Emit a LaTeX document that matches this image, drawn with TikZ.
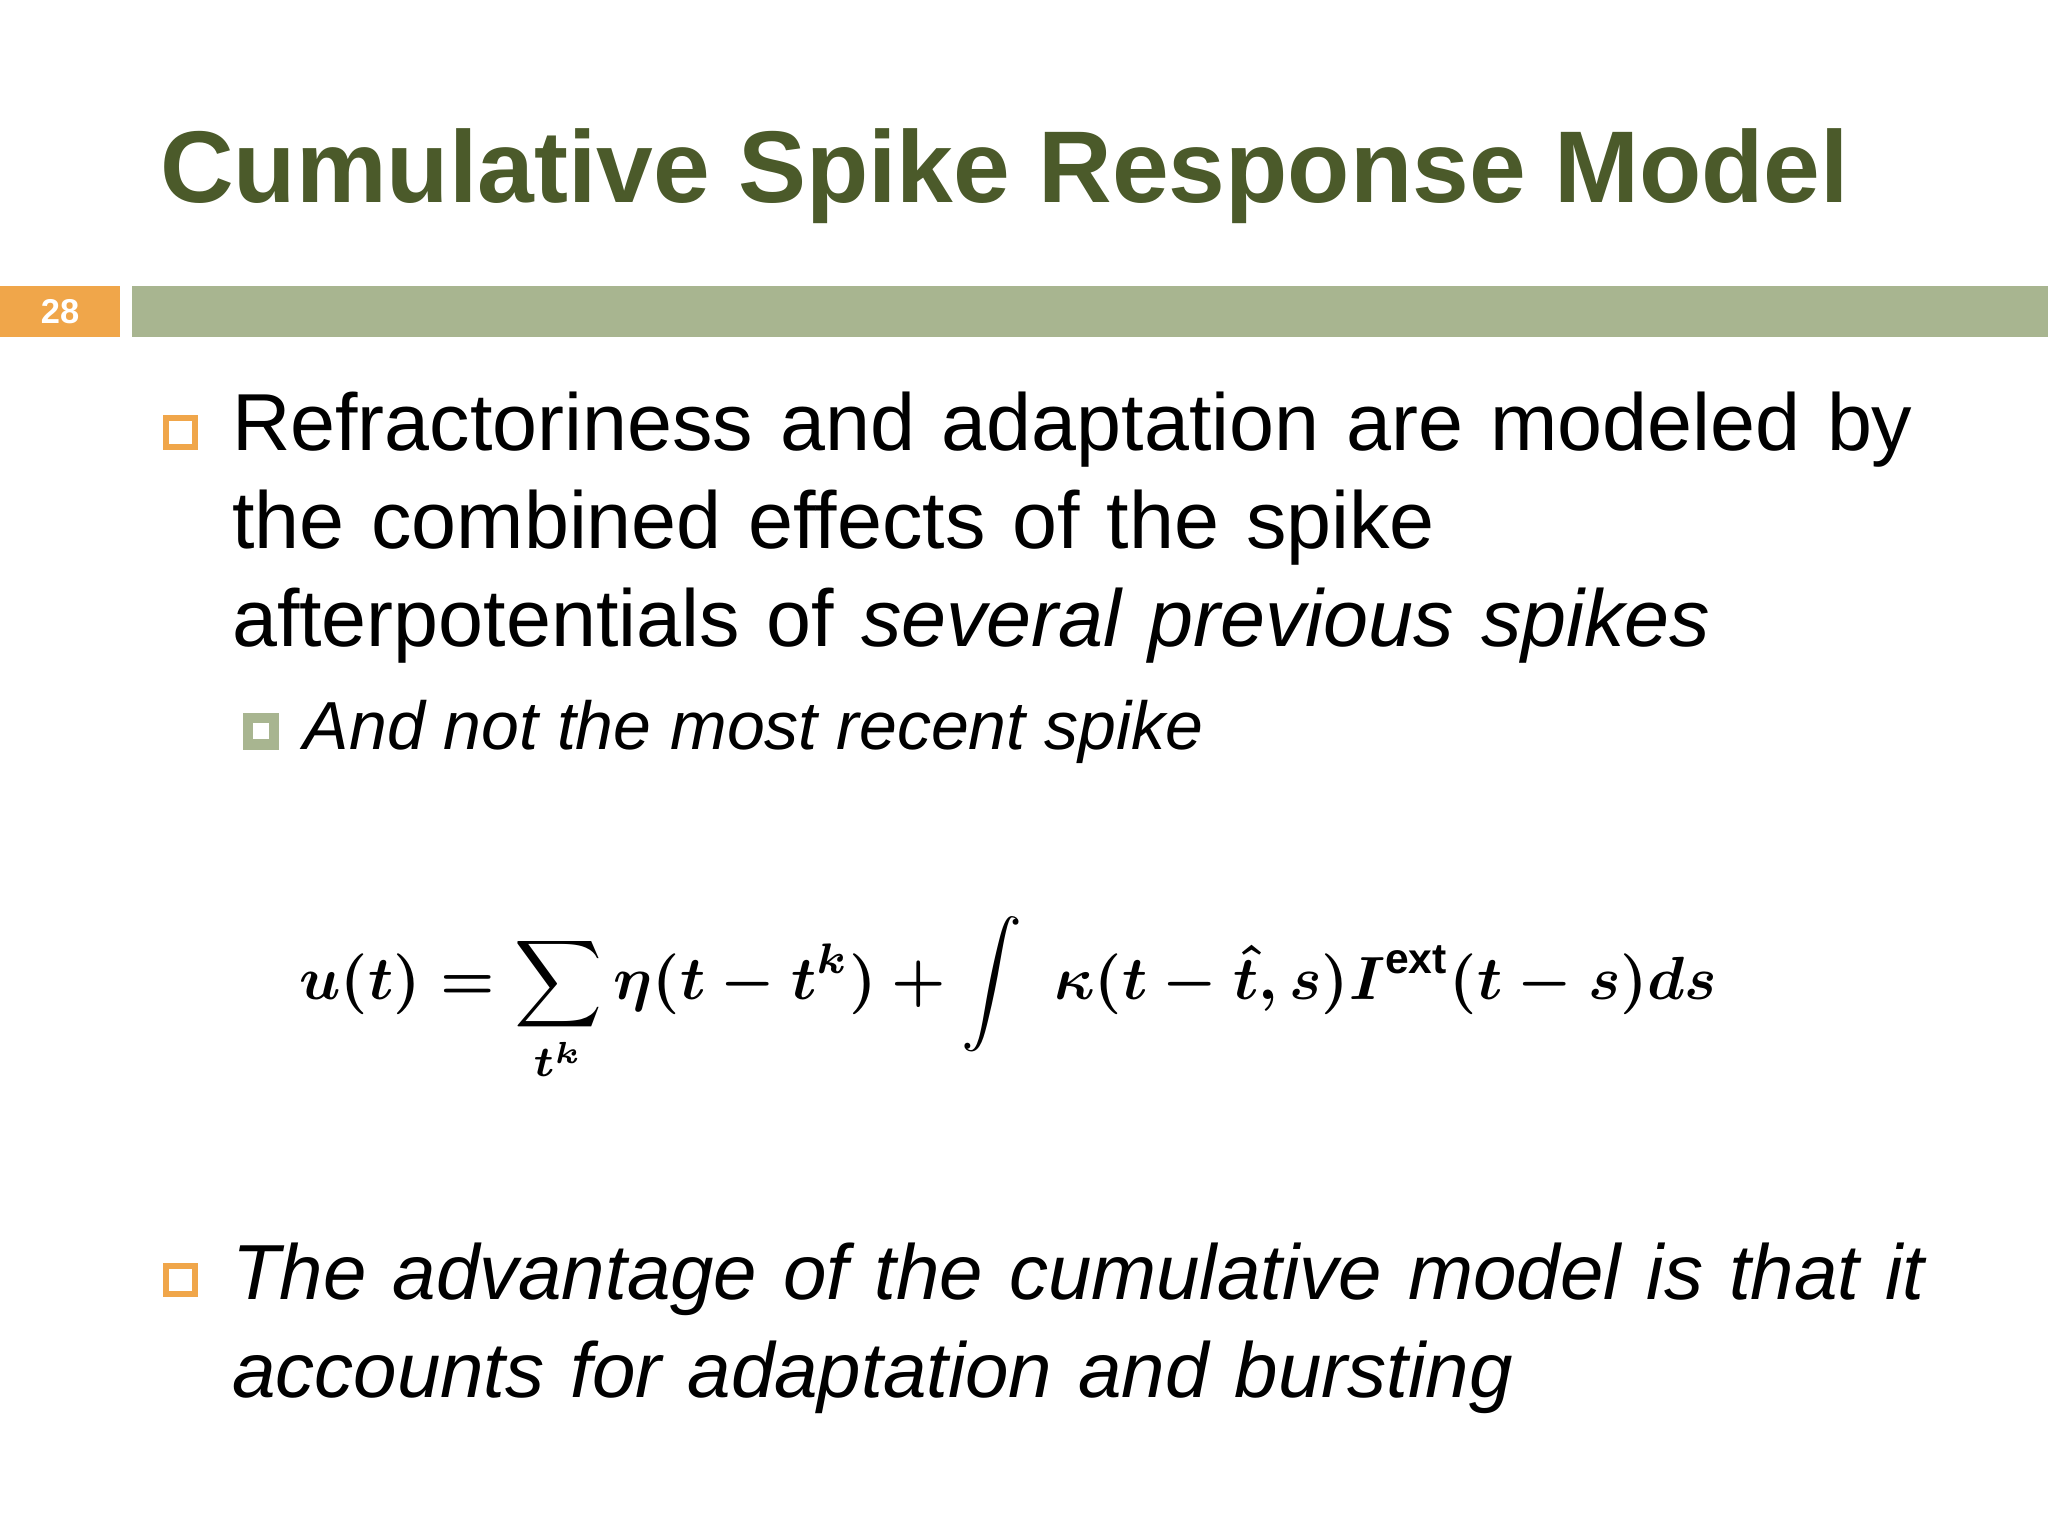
\documentclass[tikz,border=0pt]{standalone}
\usepackage{amsmath}
\usepackage{graphicx}
\usepackage{fontspec}
\setmainfont{Liberation Sans}
\definecolor{titlegreen}{HTML}{4B5A2A}
\definecolor{bargreen}{HTML}{A8B590}
\definecolor{barorange}{HTML}{F0A64A}
\newcommand{\srmeq}{\resizebox{10.85cm}{!}{\hbox{\mathversion{bold}$\displaystyle u(t)=\sum_{t^k}\eta(t-t^k)+\int\;\kappa(t-\hat{t},s)I^{\mathrm{ext}}(t-s)ds$}}}
\tikzset{
  body/.style={anchor=base west,inner sep=0pt,font=\fontsize{17.6}{21.3}\selectfont,align=left,text width=13.8cm},
  obullet/.style={draw=barorange,line width=1.3pt,minimum size=0.22cm,inner sep=0pt},
}
\begin{document}
\begin{tikzpicture}[x=0.01cm,y=-0.01cm]
\useasboundingbox[fill=white] (0,0) rectangle (1568,1176);
\node[anchor=base west,inner sep=0pt,text=titlegreen,font=\fontsize{22.2}{26}\selectfont\bfseries] (title) at (122,155) {Cumulative Spike Response Model};
\fill[barorange] (0,219) rectangle (92,258);
\node[text=white,font=\fontsize{7.5}{9}\selectfont\bfseries] (num) at (46,238.5) {28};
\fill[bargreen] (101,219) rectangle (1568,258);
\node[obullet] (b1) at (138,331) {};
\node[body] (t1) at (177,345) {Refractoriness and adaptation are modeled by\\the combined effects of the spike\\afterpotentials of \textit{several previous spikes}};
\node[draw=bargreen,line width=2.2pt,minimum size=0.2cm,inner sep=0pt] (b2) at (200,560) {};
\node[anchor=base west,inner sep=0pt,font=\fontsize{14.8}{18}\selectfont\itshape] (t2) at (232,574) {And not the most recent spike};
\node[inner sep=0pt] (srm) at (772,765) {\srmeq};
\node[obullet] (b3) at (138,980) {};
\node[body,font=\fontsize{17.0}{21.3}\selectfont\itshape] (t3) at (177,995) {The advantage of the cumulative model is that it\\accounts for adaptation and bursting};
\end{tikzpicture}
\end{document}
